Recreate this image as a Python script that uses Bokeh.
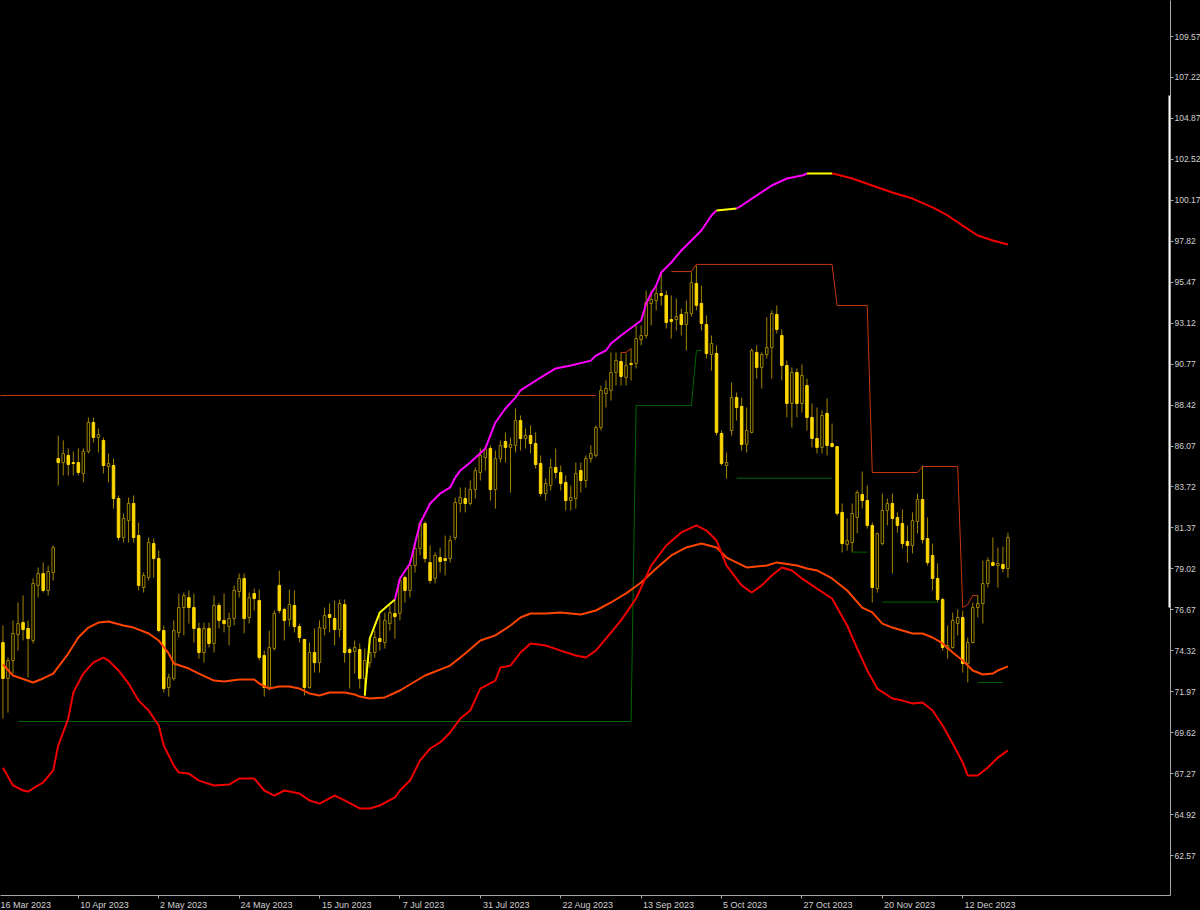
import math
from bokeh.plotting import figure
from bokeh.models import FixedTicker, PrintfTickFormatter, Range1d
from bokeh.embed import file_html
from bokeh.resources import INLINE

try:
    from bokeh.models import GlobalInlineStyleSheet
    page_css = [GlobalInlineStyleSheet(css="html,body{margin:0;padding:0;overflow:hidden;background:#000;}")]
except Exception:
    page_css = []

nan = float("nan")

# ---------------- data (daily candles, bar index 0 = 17 Mar 2023) ----------------
opens = [74.79,72.73,73.76,75.25,75.94,75.60,74.91,78.07,78.75,77.78,78.81,85.35,85.12,85.53,85.12,85.12,84.49,85.76,87.42,86.56,
         86.39,84.89,84.95,83.06,80.82,81.79,82.77,80.93,77.95,78.52,80.47,79.61,75.48,72.21,72.73,75.37,76.80,77.37,76.80,75.60,
         74.22,75.60,74.74,76.92,76.06,75.71,76.17,77.72,78.47,76.23,77.60,77.20,74.05,72.21,74.45,78.07,76.69,76.11,76.92,75.71,
         74.97,72.21,74.22,73.64,75.60,76.40,76.17,75.54,76.97,74.39,74.28,74.39,72.73,73.64,74.22,75.02,74.79,75.88,76.46,76.46,
         78.52,77.78,79.21,80.19,81.62,79.38,78.47,79.67,79.61,79.61,80.82,82.77,83.06,82.77,83.57,84.55,85.41,85.93,83.57,85.35,
         86.33,85.99,86.10,87.53,86.50,86.67,86.21,85.07,83.34,83.80,84.84,84.55,83.98,82.94,83.06,84.66,84.09,85.35,85.53,87.13,
         89.08,89.26,90.29,90.92,90.00,90.81,90.81,92.18,92.41,94.25,94.42,94.82,94.71,93.33,93.33,93.62,93.04,93.67,95.40,94.25,
         93.04,91.32,91.38,86.79,84.95,86.96,88.85,88.34,86.16,86.85,91.44,90.58,91.32,91.72,93.62,92.41,90.69,88.51,90.29,88.51,
         89.54,87.71,86.50,85.99,87.94,86.21,86.04,82.26,80.42,80.53,81.97,83.29,82.94,81.51,77.89,80.47,82.37,82.77,81.97,81.62,
         80.59,80.36,81.74,83.00,80.76,79.79,78.47,77.26,74.45,74.51,75.88,76.23,73.59,74.79,76.80,77.03,78.18,79.38,79.21,79.27,
         79.04]
highs = [75.77,73.93,76.06,77.09,77.49,76.06,78.47,79.10,79.39,79.21,80.36,86.67,86.39,85.93,85.76,85.93,85.93,87.71,87.71,87.07,
         86.56,85.64,85.35,83.23,82.20,83.11,83.23,81.68,78.81,80.82,80.76,80.07,75.77,73.01,76.06,77.60,77.66,77.78,77.60,75.94,
         75.94,75.94,77.49,77.09,77.60,76.51,78.07,78.75,78.75,77.66,77.89,77.83,74.33,75.48,76.63,78.92,76.80,77.83,77.78,75.88,
         74.97,74.79,75.60,76.06,76.80,77.03,77.20,77.26,77.26,74.51,74.91,74.74,74.45,75.02,75.48,76.34,76.51,76.92,77.20,78.52,
         78.64,79.50,80.47,81.79,81.74,80.36,79.96,80.24,80.93,80.93,83.11,83.69,83.69,84.09,84.84,85.93,86.10,86.10,85.81,86.39,
         86.85,86.56,88.22,87.82,87.07,87.25,86.85,85.53,84.20,85.35,85.93,84.95,84.38,83.80,85.12,85.12,85.53,86.10,87.25,89.54,
         89.83,91.44,91.44,91.44,91.38,91.67,92.99,92.99,95.00,95.00,95.28,96.03,95.00,94.71,94.54,93.96,94.42,96.03,96.43,95.28,
         93.56,92.41,91.84,86.96,85.70,89.71,89.14,88.85,88.28,91.67,91.84,91.44,93.45,93.85,94.14,92.76,90.98,90.58,90.52,90.75,
         89.94,88.51,88.28,88.11,88.80,87.36,86.04,82.77,81.91,82.77,83.52,84.61,83.80,81.68,81.10,83.34,83.06,83.34,82.26,82.43,
         81.51,82.26,83.34,84.95,81.97,80.47,79.33,77.37,75.77,76.51,76.69,76.63,75.08,77.09,77.49,79.50,79.67,80.82,80.24,80.30,
         81.10]
lows = [70.43,70.77,73.01,74.33,74.91,72.79,74.74,77.37,77.66,77.49,78.35,83.80,84.38,84.38,84.38,84.38,83.98,85.64,86.27,85.70,
        84.49,83.98,82.48,80.65,80.53,80.53,80.53,77.78,77.66,78.35,78.52,75.37,71.92,71.69,72.61,75.08,75.20,75.88,74.79,73.87,
        73.64,74.51,74.22,75.60,75.37,74.62,75.77,77.37,75.31,75.88,76.63,73.76,71.69,72.04,74.33,76.46,74.91,75.71,75.37,74.79,
        71.75,72.15,73.07,73.07,75.20,75.37,74.62,75.08,73.64,72.15,73.01,72.15,71.75,73.36,73.93,74.33,74.45,75.48,75.02,76.06,
        77.09,77.37,78.81,79.79,79.38,78.18,78.18,78.81,78.64,79.38,80.65,82.26,82.26,82.66,83.06,84.09,84.66,82.94,82.48,85.12,
        85.12,83.40,85.70,85.81,85.93,85.64,84.78,83.17,82.94,83.52,84.20,83.52,82.37,82.37,82.48,83.40,83.69,85.12,85.41,86.96,
        88.28,88.68,89.54,89.54,89.54,89.83,90.52,91.84,92.24,92.99,93.85,94.14,92.81,92.24,92.70,92.41,91.55,93.50,93.85,92.70,
        91.09,90.40,86.67,84.95,84.20,86.67,87.53,85.81,85.70,86.79,89.94,89.37,91.09,89.94,92.53,89.83,87.71,87.13,87.71,87.99,
        86.96,85.99,85.64,85.64,85.53,85.99,82.08,79.96,80.07,79.96,81.05,82.48,81.33,77.09,77.66,80.36,81.51,78.75,81.10,80.19,
        79.38,79.90,81.05,80.47,79.21,77.78,77.09,74.33,73.87,74.45,75.20,73.07,72.50,74.74,76.23,75.88,77.95,79.21,77.95,78.81,
        78.52]
closes = [72.73,73.76,75.31,75.88,75.54,75.02,78.18,78.75,77.78,78.87,80.24,85.12,85.64,85.01,85.07,84.55,85.76,87.42,86.56,86.73,
          84.95,85.07,83.06,80.82,81.91,82.77,80.82,78.07,78.64,80.53,79.61,75.48,72.15,72.79,75.48,76.80,77.49,76.80,75.60,74.22,
          75.60,74.74,76.92,76.06,75.88,76.17,77.78,78.47,76.17,77.37,77.32,73.93,72.21,74.51,76.46,76.63,76.06,76.97,75.71,75.08,
          72.21,74.22,73.64,75.65,76.34,76.23,75.54,77.03,74.22,74.22,74.51,72.73,73.76,74.22,75.08,74.85,76.06,76.51,76.28,78.35,
          77.78,79.21,80.19,81.62,79.61,78.35,79.79,79.44,79.50,80.65,82.83,83.11,82.77,83.57,84.66,85.53,85.87,83.57,85.35,86.10,
          85.99,86.16,87.53,86.50,86.67,86.21,85.01,83.34,83.92,84.84,84.55,83.92,82.94,83.11,84.49,84.09,85.35,85.64,87.13,89.26,
          89.37,90.29,90.98,90.06,90.69,90.75,92.24,92.41,94.31,94.48,94.82,94.71,93.16,93.22,93.50,93.04,93.73,95.45,94.14,93.10,
          91.38,91.95,86.85,85.07,85.12,88.85,88.28,86.16,86.96,91.55,90.58,91.32,91.72,93.67,92.76,90.69,88.51,90.29,88.51,90.12,
          87.71,86.50,85.99,87.82,86.10,86.04,82.20,80.47,80.65,82.20,83.40,82.94,81.51,77.95,81.05,82.37,82.77,81.91,81.51,80.47,
          80.36,81.79,83.00,80.70,79.38,78.47,77.26,74.51,74.62,76.06,76.23,73.59,74.79,76.80,77.03,78.18,79.50,79.21,79.33,79.04,
          80.82]

# middle (orange) envelope
mid_x = [0,2,4,6,8,10,13,15,17,19,21,24,26,29,31,33,34,37,39,42,44,47,50,51,53,55,57,59,61,63,65,68,70,71,73,76,79,84,89,92,
         95,98,101,103,105,108,111,115,118,121,124,127,130,133,136,139,142,144,148,152,154,158,160,162,165,168,171,173,175,177,
         179,181,183,185,187,189,191,193,195,197,198,200]
mid_y = [73.53,72.90,72.70,72.50,72.73,73.01,74.16,75.08,75.65,75.94,76.00,75.77,75.65,75.31,74.91,74.16,73.59,73.30,73.01,72.61,
         72.56,72.67,72.67,72.44,72.15,72.27,72.27,72.15,71.87,71.75,71.92,71.92,71.81,71.69,71.58,71.64,72.04,72.90,73.47,74.16,
         74.91,75.20,75.77,76.23,76.46,76.46,76.52,76.40,76.63,77.09,77.61,78.24,79.04,79.79,80.25,80.47,80.25,79.67,79.10,79.21,
         79.39,79.21,79.04,78.93,78.47,77.78,76.80,76.52,75.88,75.65,75.48,75.31,75.31,75.08,74.74,74.22,73.76,73.19,72.96,73.01,
         73.19,73.42]

# lower (red) envelope
low_x = [0,2,4,5,7,8,10,11,13,14,16,18,20,21,23,25,27,29,31,32,34,35,37,39,42,45,47,50,52,54,56,59,61,63,66,68,71,73,75,78,
         79,81,83,85,87,89,91,93,95,98,99,101,103,105,108,111,114,116,118,120,123,126,129,132,135,138,140,142,144,147,149,151,
         153,155,157,159,162,165,168,170,172,174,177,179,181,183,185,187,189,191,192,194,196,198,200]
low_y = [67.60,66.59,66.30,66.24,66.59,66.76,67.45,68.88,70.43,71.92,73.01,73.65,73.93,73.76,73.19,72.44,71.46,70.89,70.03,68.88,
         67.73,67.33,67.27,66.87,66.59,66.64,66.99,66.99,66.30,66.01,66.30,66.13,65.73,65.55,66.01,65.73,65.27,65.27,65.44,65.90,
         66.30,66.87,68.02,68.71,69.06,69.63,70.43,70.89,72.15,72.61,73.36,73.47,74.22,74.74,74.62,74.33,74.05,73.93,74.33,75.02,
         76.06,77.32,79.21,80.36,81.11,81.51,81.22,80.65,79.21,78.07,77.66,78.07,78.64,79.10,78.93,78.47,77.89,77.32,75.77,74.45,
         73.19,72.15,71.58,71.46,71.29,71.35,70.89,70.03,69.00,67.91,67.16,67.16,67.62,68.19,68.60]

# upper trailing band
up_x = [72,73,75,78,79,81,83,85,87,89,90,91,93,96,98,100,102,103,107,110,113,117,118,120,121,123,127,128,129,130,131,133,135,
        139,141,142,146,147,150,153,156,159,160,165,166,169,173,177,181,185,188,191,194,197,200]
up_y = [71.75,75.02,76.52,77.26,78.47,79.33,81.62,82.77,83.34,83.69,84.26,84.66,85.12,85.93,87.42,88.22,88.85,89.26,90.00,90.52,
        90.69,90.97,91.26,91.55,91.95,92.41,93.27,94.25,94.82,95.28,96.03,96.60,97.29,98.44,99.30,99.59,99.70,99.87,100.45,101.02,
        101.42,101.59,101.71,101.71,101.65,101.42,101.02,100.62,100.27,99.76,99.30,98.72,98.15,97.86,97.63]
up_breaks = [72, 78, 142, 146, 160, 165, 200]
up_colors = ["#FFFF00", "#FF00FF", "#FFFF00", "#FF00FF", "#FFFF00", "#F00000"]

# resistance / support step levels (nan = gap)
res_x = [-1, 118, nan, 123, 124, 125, nan, 133, 137, 138, 165, 166, 172, 173, 182, 183, 190, 191, 192, 193, 194]
res_y = [88.97, 88.97, nan, 91.44, 91.44, 91.67, nan, 96.08, 96.08, 96.49, 96.49, 94.13, 94.13, 84.55, 84.55, 84.89, 84.89,
         76.80, 76.97, 77.49, 77.49]
sup_x = [3, 125, 126, 137, 138, 139, nan, 146, 165, nan, 169, 172, nan, 175, 186, nan, 194, 199]
sup_y = [70.26, 70.26, 88.39, 88.39, 91.55, 91.55, nan, 84.22, 84.22, nan, 79.98, 79.98, nan, 77.11, 77.11, nan, 72.50, 72.50]

# price-scale highlight range
scale_hi = 106.18
scale_lo = 76.80

date_ticks = [-1, 15, 31, 47, 63, 79, 95, 111, 127, 143, 159, 175, 191]
date_labels = ["16 Mar 2023", "10 Apr 2023", "2 May 2023", "24 May 2023", "15 Jun 2023", "7 Jul 2023", "31 Jul 2023",
               "22 Aug 2023", "13 Sep 2023", "5 Oct 2023", "27 Oct 2023", "20 Nov 2023", "12 Dec 2023"]
price_ticks = [62.57, 64.92, 67.27, 69.62, 71.97, 74.32, 76.67, 79.02, 81.37, 83.72, 86.07, 88.42, 90.77, 93.12, 95.47,
               97.82, 100.17, 102.52, 104.87, 107.22, 109.57]

# ---------------- figure ----------------
PX_PER_BAR = 5.025
X0 = -0.4876
X1 = X0 + 1170 / PX_PER_BAR
p = figure(frame_width=1170, frame_height=895, x_range=Range1d(X0, X1), y_range=Range1d(60.275, 111.636),
           y_axis_location="right", output_backend="svg", toolbar_location=None,
           background_fill_color="black", border_fill_color="black", min_border=0)
p.min_border_left = 0
p.min_border_top = 0
p.outline_line_color = None
p.grid.visible = False
if page_css:
    p.stylesheets = page_css

AX = "#A8A8A8"
TXT = "#D0D0D0"
FONT = "Liberation Sans"


def text_w(s, fs=9.0):
    w = 0.0
    for ch in s:
        if ch.isdigit():
            w += 0.556
        elif ch == " ":
            w += 0.278
        elif ch.isupper():
            w += 0.667
        elif ch in "ijlt":
            w += 0.25
        elif ch in "r":
            w += 0.333
        elif ch in "m":
            w += 0.833
        else:
            w += 0.53
    return w * fs


# labels sit to the right of their date tick (MetaTrader style): label centre shifted by half its width
label_pos = [t + (2 + text_w(lab) / 2) / PX_PER_BAR for t, lab in zip(date_ticks, date_labels)]
tick_marks = [t for t in date_ticks if t > X0]

xa = p.xaxis[0]
xa.ticker = FixedTicker(ticks=label_pos, minor_ticks=tick_marks)
xa.major_label_overrides = {v: lab for v, lab in zip(label_pos, date_labels)}
xa.major_label_standoff = 1
xa.major_tick_in = 0
xa.major_tick_out = 0
xa.minor_tick_out = 3
xa.minor_tick_in = 0
xa.axis_line_color = AX
xa.minor_tick_line_color = AX
xa.major_label_text_color = TXT
xa.major_label_text_font = FONT
xa.major_label_text_font_size = "9px"

ya = p.yaxis[0]
ya.ticker = FixedTicker(ticks=price_ticks, minor_ticks=[])
ya.formatter = PrintfTickFormatter(format="%.2f")
ya.major_label_standoff = 1
ya.major_tick_in = 0
ya.major_tick_out = 3
ya.minor_tick_out = 0
ya.minor_tick_in = 0
ya.axis_line_color = AX
ya.major_tick_line_color = AX
ya.major_label_text_color = TXT
ya.major_label_text_font = FONT
ya.major_label_text_font_size = "8.5px"

# ---------------- candles ----------------
bars = list(range(len(opens)))
bull = [i for i in bars if closes[i] >= opens[i]]
bear = [i for i in bars if closes[i] < opens[i]]
WICK = "#A08500"
HOLLOW = "#A08500"
GOLD = "#FFD700"

p.segment(x0=bars, y0=lows, x1=bars, y1=highs, line_color=WICK, line_width=1)
p.vbar(x=bear, width=0.5, top=[opens[i] for i in bear], bottom=[closes[i] for i in bear],
       fill_color=GOLD, line_color=GOLD, line_width=1)
p.vbar(x=bull, width=0.5, top=[closes[i] for i in bull], bottom=[opens[i] for i in bull],
       fill_color="black", line_color=HOLLOW, line_width=1)

# ---------------- levels & envelopes ----------------
p.line(res_x, res_y, line_color="#C8380F", line_width=1)
p.line(sup_x, sup_y, line_color="#006400", line_width=1)
p.line(mid_x, mid_y, line_color="#FF4500", line_width=2)
p.line(low_x, low_y, line_color="#F00000", line_width=2)

for k, col in enumerate(up_colors):
    lo, hi = up_breaks[k], up_breaks[k + 1]
    xs = [b for b in up_x if lo <= b <= hi]
    ys = [v for b, v in zip(up_x, up_y) if lo <= b <= hi]
    p.line(xs, ys, line_color=col, line_width=2)

# price scale highlight
p.segment(x0=[X1 - 0.2], y0=[scale_lo], x1=[X1 - 0.2], y1=[scale_hi], line_color="white", line_width=2)

open("out.html", "w").write(file_html(p, INLINE))
